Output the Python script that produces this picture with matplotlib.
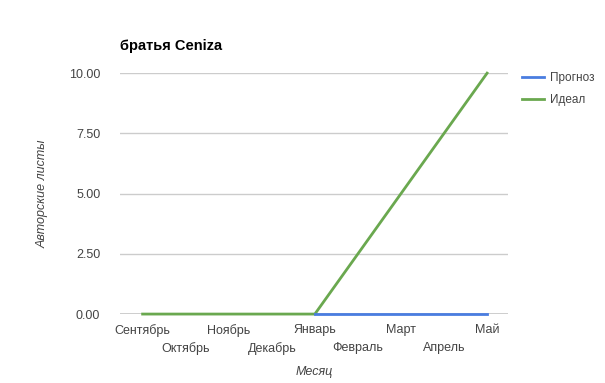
import matplotlib.pyplot as plt

months = ["Сентябрь", "Октябрь", "Ноябрь", "Декабрь", "Январь",
          "Февраль", "Март", "Апрель", "Май"]
forecast = [0, 0, 0, 0, 0, 0, 0, 0, 0]
ideal = [0, 0, 0, 0, 0, 2.5, 5, 7.5, 10]
yticks = [0, 2.5, 5, 7.5, 10]

plt.rcParams["font.family"] = ["Liberation Sans", "DejaVu Sans"]

fig = plt.figure(figsize=(6.05, 3.83), dpi=100)
ax = fig.add_axes([0.198, 0.180, 0.642, 0.629])

x = list(range(len(months)))
ax.plot(x, ideal, color="#6aa84f", lw=2, clip_on=False, zorder=3, label="Идеал")
ax.plot(x[4:], forecast[4:], color="#4a7de0", lw=2, clip_on=False, zorder=4)
ax.plot([], [], color="#4a7de0", lw=2, label="Прогноз")

ax.set_xlim(-0.53, 8.49)
ax.set_ylim(0, 10)
ax.set_yticks(yticks)
ax.set_yticklabels(["%.2f" % v for v in yticks])
ax.grid(axis="y", color="#cccccc", lw=1)
ax.axhline(0, color="#333333", lw=1, zorder=2)
for s in ax.spines.values():
    s.set_visible(False)
ax.tick_params(which="both", length=0, colors="#444444", labelsize=9)
ax.tick_params(axis="y", pad=14)

# two rows of month labels
ax.set_xticks(x[0::2])
ax.set_xticklabels(months[0::2])
ax.set_xticks(x[1::2], minor=True)
ax.set_xticklabels(months[1::2], minor=True)
ax.tick_params(axis="x", which="major", pad=7)
ax.tick_params(axis="x", which="minor", pad=20)

ax.set_xlabel("Месяц", style="italic", color="#444444", fontsize=9, labelpad=8)
ax.set_ylabel("Авторские листы", style="italic", color="#444444", fontsize=9, labelpad=15)
fig.text(0.198, 0.870, "братья Ceniza", fontsize=10.5, fontweight="bold", color="#000000")

handles, lbls = ax.get_legend_handles_labels()
order = [1, 0]
leg = ax.legend([handles[i] for i in order], [lbls[i] for i in order],
                loc="upper left", bbox_to_anchor=(1.008, 1.047), frameon=False,
                fontsize=8.5, handlelength=1.9, labelspacing=0.8, handletextpad=0.5)
for t in leg.get_texts():
    t.set_color("#444444")

fig.savefig("out.png", dpi=100)
